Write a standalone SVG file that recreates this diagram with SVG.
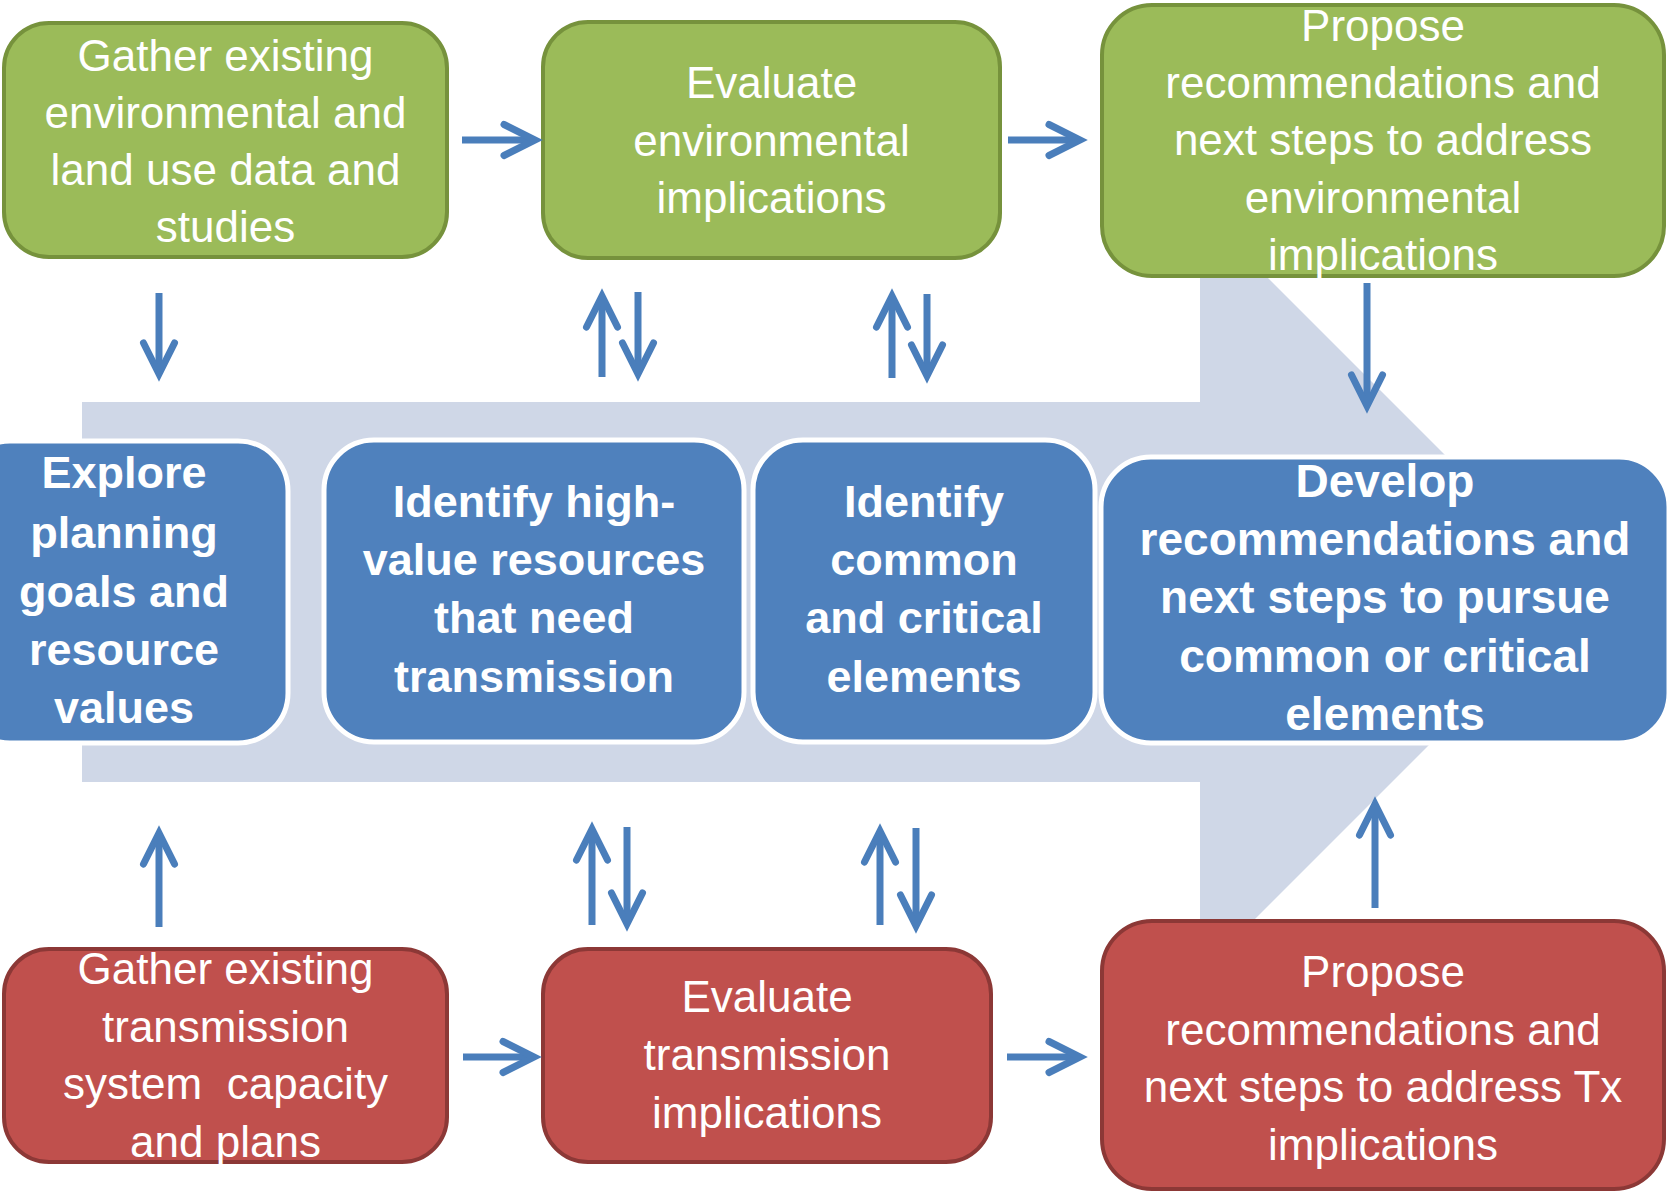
<svg xmlns="http://www.w3.org/2000/svg" width="1670" height="1192" viewBox="0 0 1670 1192">
<style>
.g rect{fill:#9BBB59;stroke:#76923C;stroke-width:4}
.r rect{fill:#C0504D;stroke:#8C3836;stroke-width:4}
.b rect{fill:#4F81BD;stroke:#FFFFFF;stroke-width:5}
.t{font-family:"Liberation Sans",Arial,sans-serif;font-size:44px;fill:#FFFFFF;text-anchor:middle}
.tb{font-family:"Liberation Sans",Arial,sans-serif;font-size:45px;font-weight:bold;fill:#FFFFFF;text-anchor:middle}
.c path{fill:none;stroke:#4A7EBB;stroke-width:7;marker-end:url(#ah)}
</style>
<defs>
<marker id="ah" markerUnits="userSpaceOnUse" viewBox="-40 -22 52 44" refX="0" refY="0" markerWidth="52" markerHeight="44" orient="auto" overflow="visible">
<path d="M-31,-15.5 L0,0 L-31,15.5" fill="none" stroke="#4A7EBB" stroke-width="7" stroke-linecap="round" stroke-linejoin="miter"/>
</marker>
</defs>
<rect width="1670" height="1192" fill="#FFFFFF"/>
<polygon id="bigArrow" points="82,402 1200,402 1200,210 1582,592 1200,974 1200,782 82,782" fill="#CFD7E7"/>

<g id="green1" class="g"><rect x="4" y="23" width="443" height="234" rx="45"/>
<text class="t" x="225.5" y="71">Gather existing</text>
<text class="t" x="225.5" y="128">environmental and</text>
<text class="t" x="225.5" y="185">land use data and</text>
<text class="t" x="225.5" y="242">studies</text></g>

<g id="green2" class="g"><rect x="543" y="22" width="457" height="236" rx="45"/>
<text class="t" x="771.5" y="98">Evaluate</text>
<text class="t" x="771.5" y="156">environmental</text>
<text class="t" x="771.5" y="213">implications</text></g>

<g id="green3" class="g"><rect x="1102" y="5" width="562" height="271" rx="50"/>
<text class="t" x="1383" y="41">Propose</text>
<text class="t" x="1383" y="98">recommendations and</text>
<text class="t" x="1383" y="155">next steps to address</text>
<text class="t" x="1383" y="213">environmental</text>
<text class="t" x="1383" y="270">implications</text></g>

<g id="blue1" class="b"><rect x="-40" y="441" width="328" height="302" rx="50"/>
<text class="tb" x="124" y="488">Explore</text>
<text class="tb" x="124" y="548">planning</text>
<text class="tb" x="124" y="607">goals and</text>
<text class="tb" x="124" y="665">resource</text>
<text class="tb" x="124" y="723">values</text></g>

<g id="blue2" class="b"><rect x="324" y="440" width="420" height="302" rx="50"/>
<text class="tb" x="534" y="517">Identify high-</text>
<text class="tb" x="534" y="575">value resources</text>
<text class="tb" x="534" y="633">that need</text>
<text class="tb" x="534" y="692">transmission</text></g>

<g id="blue3" class="b"><rect x="753" y="440" width="342" height="302" rx="50"/>
<text class="tb" x="924" y="517">Identify</text>
<text class="tb" x="924" y="575">common</text>
<text class="tb" x="924" y="633">and critical</text>
<text class="tb" x="924" y="692">elements</text></g>

<g id="blue4" class="b"><rect x="1101" y="457" width="568" height="286" rx="50"/>
<text class="tb" x="1385" y="497" style="font-size:46px">Develop</text>
<text class="tb" x="1385" y="555" style="font-size:46px">recommendations and</text>
<text class="tb" x="1385" y="613" style="font-size:46px">next steps to pursue</text>
<text class="tb" x="1385" y="672" style="font-size:46px">common or critical</text>
<text class="tb" x="1385" y="730" style="font-size:46px">elements</text></g>

<g id="red1" class="r"><rect x="4" y="949" width="443" height="213" rx="45"/>
<text class="t" x="225.5" y="984">Gather existing</text>
<text class="t" x="225.5" y="1042">transmission</text>
<text class="t" x="225.5" y="1099">system &#160;capacity</text>
<text class="t" x="225.5" y="1157">and plans</text></g>

<g id="red2" class="r"><rect x="543" y="949" width="448" height="213" rx="45"/>
<text class="t" x="767" y="1012">Evaluate</text>
<text class="t" x="767" y="1070">transmission</text>
<text class="t" x="767" y="1128">implications</text></g>

<g id="red3" class="r"><rect x="1102" y="921" width="562" height="268" rx="50"/>
<text class="t" x="1383" y="987">Propose</text>
<text class="t" x="1383" y="1045">recommendations and</text>
<text class="t" x="1383" y="1102">next steps to address Tx</text>
<text class="t" x="1383" y="1160">implications</text></g>

<g id="connectors" class="c">
<path d="M462,140 H535"/>
<path d="M1008,140 H1080"/>
<path d="M159,293 V374"/>
<path d="M602,377 V296"/>
<path d="M638,292 V374"/>
<path d="M892,378 V296"/>
<path d="M927,294 V376"/>
<path d="M1367,283 V406"/>
<path d="M159,927 V833"/>
<path d="M592,925 V829"/>
<path d="M627,827 V924"/>
<path d="M880,925 V831"/>
<path d="M916,828 V926"/>
<path d="M1375,908 V804"/>
<path d="M463,1057 H534"/>
<path d="M1007,1057 H1080"/>
</g>
</svg>
